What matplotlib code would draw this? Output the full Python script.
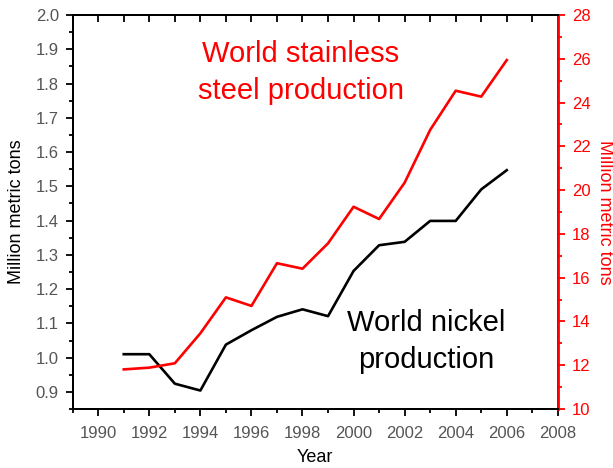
import matplotlib
matplotlib.use("Agg")
import matplotlib.pyplot as plt
from matplotlib.ticker import MultipleLocator, FormatStrFormatter

plt.rcParams['font.family'] = ['Liberation Sans', 'DejaVu Sans']

years = [1991, 1992, 1993, 1994, 1995, 1996, 1997, 1998, 1999,
         2000, 2001, 2002, 2003, 2004, 2005, 2006]
nickel = [1.01, 1.01, 0.924, 0.904, 1.038, 1.08, 1.119, 1.141, 1.121,
          1.253, 1.328, 1.338, 1.399, 1.399, 1.491, 1.547]
steel = [11.81, 11.89, 12.09, 13.46, 15.1, 14.71, 16.66, 16.41, 17.57,
         19.24, 18.68, 20.34, 22.75, 24.54, 24.27, 25.94]

fig = plt.figure(figsize=(6.13, 4.68), dpi=100)
ax = fig.add_axes([0.1186, 0.126, 0.7914, 0.842])
ax2 = ax.twinx()

grey = '#555555'
red = '#ff0000'

ax.plot(years, nickel, color='black', lw=1.9, zorder=3)
ax2.plot(years, steel, color=red, lw=1.9, zorder=3)

ax.set_xlim(1989, 2008)
ax.set_ylim(0.85, 2.0)
ax2.set_ylim(10, 28)

ax.xaxis.set_major_locator(MultipleLocator(2))
ax.xaxis.set_minor_locator(MultipleLocator(1))
ax.yaxis.set_major_locator(MultipleLocator(0.1))
ax.yaxis.set_minor_locator(MultipleLocator(0.05))
ax.yaxis.set_major_formatter(FormatStrFormatter('%.1f'))
ax2.yaxis.set_major_locator(MultipleLocator(2))
ax2.yaxis.set_minor_locator(MultipleLocator(1))

for sp in ax.spines.values():
    sp.set_linewidth(1.4)
for sp in ax2.spines.values():
    sp.set_linewidth(1.4)
ax2.spines['right'].set_color(red)
ax2.spines['right'].set_linewidth(2.0)

ax.tick_params(axis='x', which='both', direction='out', top=False, labelsize=12,
               labelcolor=grey, width=1.3, pad=7)
ax.tick_params(axis='x', which='major', length=5)
ax.tick_params(axis='x', which='minor', length=3)
ax.tick_params(axis='y', which='both', direction='out', labelsize=12,
               labelcolor=grey, width=1.3, pad=5)
ax.tick_params(axis='y', which='major', length=5)
ax.tick_params(axis='y', which='minor', length=3)

top = ax.secondary_xaxis('top')
top.xaxis.set_major_locator(MultipleLocator(2))
top.xaxis.set_minor_locator(MultipleLocator(1))
top.tick_params(which='both', direction='in', labeltop=False, width=1.3)
top.tick_params(which='major', length=5)
top.tick_params(which='minor', length=5)
top.spines['top'].set_linewidth(1.4)

ax2.tick_params(axis='y', which='both', direction='out', colors=red,
                labelsize=12, width=1.3, pad=5)
ax2.tick_params(axis='y', which='major', length=5)
ax2.tick_params(axis='y', which='minor', length=3)

ax.set_xlabel('Year', fontsize=13, labelpad=6)
ax.set_ylabel('Million metric tons', fontsize=13, labelpad=8)
ax2.set_ylabel('Million metric tons', fontsize=13, color=red, rotation=270,
               labelpad=16)

ax.text(0.47, 0.855, 'World stainless\nsteel production', transform=ax.transAxes,
        ha='center', va='center', fontsize=21, color=red, linespacing=1.4)
ax.text(0.729, 0.172, 'World nickel\nproduction', transform=ax.transAxes,
        ha='center', va='center', fontsize=21, color='black', linespacing=1.4)

fig.savefig('out.png', dpi=100)
